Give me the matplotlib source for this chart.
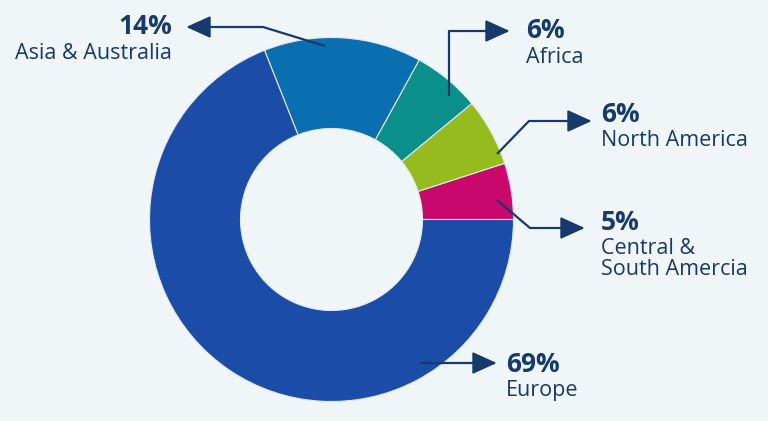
import matplotlib.pyplot as plt
from matplotlib.patches import Polygon

# data, counter-clockwise from 3 o'clock
regions = ['Central &\nSouth Amercia', 'North America', 'Africa', 'Asia & Australia', 'Europe']
shares = [5, 6, 6, 14, 69]
colors = ['#c9076c', '#95bb1f', '#0b8f8b', '#0a6fb1', '#1a4ca8']

BG = '#f0f5f8'
NAVY = '#163a6c'
W, H = 768, 421

fig = plt.figure(figsize=(W / 100, H / 100), dpi=100)
fig.patch.set_facecolor(BG)
ax = fig.add_axes([0, 0, 1, 1])
ax.set_facecolor(BG)


def P(x, y):
    # pixel coords (y down) -> data coords (y up)
    return x, H - y


cx, cy = P(331.5, 219.5)
ax.pie(shares, colors=colors, startangle=0, counterclock=True,
       center=(cx, cy), radius=182, frame=True,
       wedgeprops=dict(width=91, edgecolor='#dfe9f0', linewidth=0.8))
ax.set_xlim(0, W)
ax.set_ylim(0, H)
ax.set_aspect('equal')
ax.axis('off')


def arrow(points, tip_dir=1):
    pts = [P(x, y) for x, y in points]
    xs, ys = zip(*pts)
    ax.plot(xs, ys, color=NAVY, lw=1.6, solid_capstyle='butt', zorder=5)
    tx, ty = pts[-1]
    hl, hw = 22, 10
    head = [(tx, ty), (tx - tip_dir * hl, ty + hw), (tx - tip_dir * hl, ty - hw)]
    ax.add_patch(Polygon(head, closed=True, color=NAVY, zorder=6))


def label(x, y, pct, name, ha='left'):
    px, py = P(x, y)
    ax.text(px, py, pct, ha=ha, va='center', fontsize=19, fontweight='bold',
            color=NAVY, family='Open Sans')
    ax.text(px, py - 16, name, ha=ha, va='top', fontsize=15.5,
            color=NAVY, family='Open Sans', linespacing=1.0)


# Asia & Australia
arrow([(325, 46), (263, 27), (188, 27)], tip_dir=-1)
label(172, 27, f'{shares[3]}%', regions[3], ha='right')

# Africa
arrow([(449, 96), (449, 31), (508, 31)])
label(526, 31, f'{shares[2]}%', regions[2])

# North America
arrow([(497, 154), (529, 121), (590, 121)])
label(601, 114, f'{shares[1]}%', regions[1])

# Central & South America
arrow([(497, 200), (530, 228), (583, 228)])
label(601, 222, f'{shares[0]}%', regions[0])

# Europe
arrow([(420, 363), (495, 363)])
label(506, 364, f'{shares[4]}%', regions[4])

fig.savefig('out.png', dpi=100, facecolor=BG)
